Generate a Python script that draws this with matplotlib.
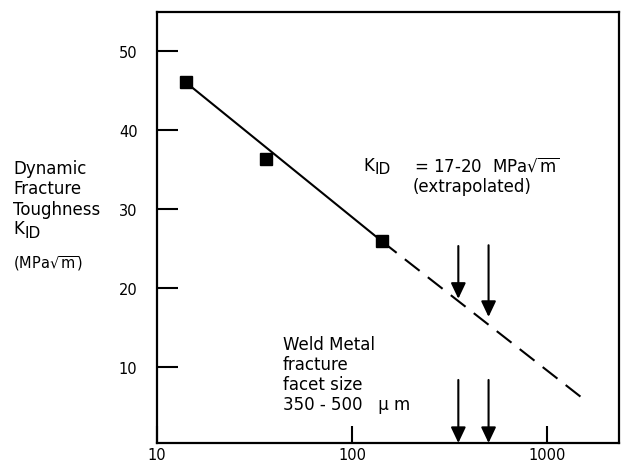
import matplotlib
matplotlib.use('Agg')
import matplotlib.pyplot as plt

plt.rcParams['font.family'] = ['DejaVu Sans']
plt.rcParams['mathtext.default'] = 'regular'

# measured points (facet size in um, K_ID in MPa sqrt(m))
facet_size = [14, 36, 142]
k_id = [46.1, 36.4, 25.9]

# fitted line and its extrapolation
fit_x = [14, 142]
fit_y = [46.1, 25.9]
extrap_x = [142, 1530]
extrap_y = [25.9, 5.9]

# arrows marking 350-500 um weld metal facet size
arrow_x = [350, 500]
upper_top = [25.3, 25.4]
upper_tip = [18.6, 16.3]
lower_top = [8.3, 8.3]
lower_tip = [0.3, 0.3]

x_ticks = [10, 100, 1000]
y_ticks = [10, 20, 30, 40, 50]

fig = plt.figure(figsize=(6.27, 4.64), dpi=100)
ax = fig.add_axes([157 / 627, 1 - 444 / 464, (619 - 157) / 627, (444 - 13) / 464])

ax.plot(fit_x, fit_y, color='black', lw=1.5)
ax.plot(extrap_x, extrap_y, color='black', lw=1.5, dashes=(9, 5))
ax.plot(facet_size, k_id, 's', color='black', ms=8)

arrow_style = '-|>,head_length=0.95,head_width=0.45'
for x, top, tip in zip(arrow_x, upper_top, upper_tip):
    ax.annotate('', xy=(x, tip), xytext=(x, top),
                arrowprops=dict(arrowstyle=arrow_style, color='black', lw=1.5,
                                shrinkA=0, shrinkB=0, mutation_scale=10))
for x, top, tip in zip(arrow_x, lower_top, lower_tip):
    ax.annotate('', xy=(x, tip), xytext=(x, top),
                arrowprops=dict(arrowstyle=arrow_style, color='black', lw=1.5,
                                shrinkA=0, shrinkB=0, mutation_scale=10))

ax.set_xscale('log')
ax.set_xlim(10, 2330)
ax.set_ylim(0.3, 55)
ax.set_xticks(x_ticks)
ax.set_xticklabels([str(t) for t in x_ticks])
ax.xaxis.set_minor_locator(matplotlib.ticker.NullLocator())
ax.set_yticks(y_ticks)
ax.tick_params(axis='y', direction='in', length=15, width=1.5, pad=14, labelsize=10.5)
ax.tick_params(axis='x', direction='in', length=12, width=1.5, pad=3, labelsize=10.5)
for s in ax.spines.values():
    s.set_linewidth(1.6)


def k_id_label(x, y, size):
    # K with a near full-size lowered "ID" subscript, as in the original
    fig.text(x / 627, 1 - y / 464, 'K', fontsize=size, va='center')
    fig.text((x + 0.72 * size * 100 / 72) / 627, 1 - (y + 4) / 464, 'ID',
             fontsize=size - 1, va='center')


# annotations
k_id_label(363, 166, 12)
fig.text(414 / 627, 1 - 166 / 464, r'= 17-20  MPa$\sqrt{m}$', fontsize=12, va='center')
fig.text(472 / 627, 1 - 187 / 464, '(extrapolated)', fontsize=12, va='center', ha='center')

weld_lines = ['Weld Metal', 'fracture', 'facet size', '350 - 500   \u03bc m']
for i, line in enumerate(weld_lines):
    fig.text(283 / 627, 1 - (345 + 20 * i) / 464, line, fontsize=12, va='center')

ylabel_lines = ['Dynamic', 'Fracture', 'Toughness']
for i, line in enumerate(ylabel_lines):
    fig.text(13 / 627, 1 - (169 + 20.5 * i) / 464, line, fontsize=12, va='center')
k_id_label(13, 229, 12)
fig.text(13 / 627, 1 - 264 / 464, r'(MPa$\sqrt{m}$)', fontsize=10.5, va='center')

fig.savefig('out.png', dpi=100)
